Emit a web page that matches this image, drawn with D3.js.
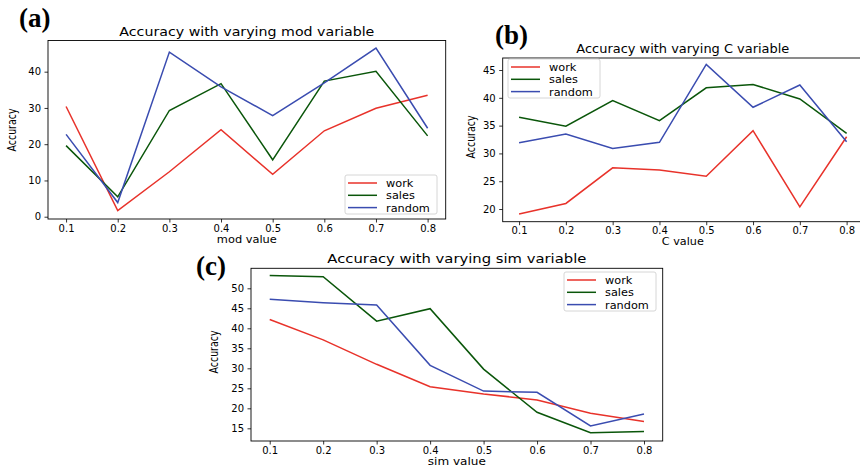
<!DOCTYPE html>
<html>
<head>
<meta charset="utf-8">
<script src="https://cdn.jsdelivr.net/npm/d3@7"></script>
<style>
  body { margin: 0; background: #fff; }
  svg { display: block; font-family: "DejaVu Sans", sans-serif; }
</style>
</head>
<body>
<div id="hook"></div>
<script>
var xValues = [0.1, 0.2, 0.3, 0.4, 0.5, 0.6, 0.7, 0.8];
var seriesNames = ["work", "sales", "random"];

// (a) mod variable
var modWork = [30.4, 1.7, 12.4, 24.0, 11.7, 23.7, 29.9, 33.5];
var modSales = [19.6, 5.5, 29.3, 36.7, 15.7, 37.4, 40.1, 22.3];
var modRandom = [22.7, 3.9, 45.4, 35.8, 27.9, 36.9, 46.5, 24.4];
var modTicks = [0, 10, 20, 30, 40];

// (b) C variable
var cWork = [19.1, 21.0, 27.4, 27.0, 25.9, 34.1, 20.4, 33.0];
var cSales = [36.5, 34.9, 39.5, 35.9, 41.8, 42.4, 39.8, 33.6];
var cRandom = [31.9, 33.5, 30.9, 32.0, 46.0, 38.3, 42.3, 32.1];
var cTicks = [20, 25, 30, 35, 40, 45];

// (c) sim variable
var simWork = [42.2, 37.1, 31.0, 25.4, 23.6, 22.1, 18.75, 16.7];
var simSales = [53.2, 52.9, 41.8, 44.9, 29.8, 19.0, 13.9, 14.2];
var simRandom = [47.25, 46.4, 45.8, 30.75, 24.3, 24.0, 15.6, 18.6];
var simTicks = [15, 20, 25, 30, 35, 40, 45, 50];

var colors = ["#e8322a", "#0a560a", "#3a4cb0"];

var W = 860, H = 466;
var svg = d3.select("#hook").append("svg").attr("width", W).attr("height", H);

function panel(o) {
    var x = d3.scaleLinear().domain([0.065, 0.835]).range([o.left, o.right]);
    var y = d3.scaleLinear().domain(o.yDomain).range([o.bottom, o.top]);
    var g = svg.append("g");

    var xAxis = g.append("g")
        .attr("transform", "translate(0," + o.bottom + ")")
        .call(d3.axisBottom(x).tickValues(xValues).tickFormat(d3.format(".1f")).tickSize(3.5).tickPadding(2));
    var yAxis = g.append("g")
        .attr("transform", "translate(" + o.left + ",0)")
        .call(d3.axisLeft(y).tickValues(o.ticks).tickFormat(d3.format("d")).tickSize(3.5).tickPadding(3.5));
    [xAxis, yAxis].forEach(function (a) {
        a.select(".domain").remove();
        a.selectAll("line").attr("stroke", "#000").attr("stroke-width", 0.8);
        a.selectAll("text").attr("font-size", 10).attr("fill", "#000")
            .attr("font-family", "DejaVu Sans, sans-serif");
    });

    var line = d3.line().x(function (d, i) { return x(xValues[i]); }).y(function (d) { return y(d); });
    o.series.forEach(function (s, i) {
        g.append("path").datum(s).attr("d", line)
            .attr("fill", "none").attr("stroke", colors[i]).attr("stroke-width", 1.5);
    });

    g.append("rect")
        .attr("x", o.left).attr("y", o.top)
        .attr("width", o.right - o.left).attr("height", o.bottom - o.top)
        .attr("fill", "none").attr("stroke", "#000").attr("stroke-width", 0.9);

    g.append("text").text(o.title)
        .attr("x", (o.left + Math.min(o.right, 863)) / 2).attr("y", o.top - 5)
        .attr("text-anchor", "middle").attr("font-size", 12)
        .attr("textLength", o.titleLen).attr("lengthAdjust", "spacingAndGlyphs");

    g.append("text").text(o.xLabel)
        .attr("x", x(0.45)).attr("y", o.bottom + 23.5)
        .attr("text-anchor", "middle").attr("font-size", 10.5)
        .attr("textLength", o.xLabelLen).attr("lengthAdjust", "spacingAndGlyphs");

    g.append("text").text("Accuracy")
        .attr("transform", "translate(" + o.yLabelX + "," + o.yLabelY + ") rotate(-90)")
        .attr("text-anchor", "middle").attr("font-size", 11.5)
        .attr("textLength", 43).attr("lengthAdjust", "spacingAndGlyphs");

    // legend
    var lg = g.append("g").attr("transform", "translate(" + o.legend[0] + "," + o.legend[1] + ")");
    lg.append("rect").attr("width", 92).attr("height", 39).attr("rx", 2)
        .attr("fill", "#fff").attr("fill-opacity", 0.85).attr("stroke", "#ccc").attr("stroke-width", 0.8);
    seriesNames.forEach(function (n, i) {
        var yy = 8 + i * 12.3;
        lg.append("line").attr("x1", 3).attr("x2", 32).attr("y1", yy).attr("y2", yy)
            .attr("stroke", colors[i]).attr("stroke-width", 1.5);
        lg.append("text").text(n).attr("x", 41).attr("y", yy + 4).attr("font-size", 11.3);
    });

    svg.append("text").text(o.tag)
        .attr("x", o.tagX).attr("y", o.tagY)
        .attr("font-family", "Liberation Serif, Times New Roman, serif")
        .attr("font-weight", "bold").attr("font-size", 27);
}

panel({
    left: 48, right: 445.7, top: 40.5, bottom: 219, yDomain: [-0.63, 48.6], ticks: modTicks,
    series: [modWork, modSales, modRandom],
    title: "Accuracy with varying mod variable", titleLen: 255,
    xLabel: "mod value", xLabelLen: 60, yLabelX: 16, yLabelY: 130,
    legend: [345, 175], tag: "(a)", tagX: 19, tagY: 27
});

panel({
    left: 502.7, right: 863, top: 58, bottom: 221.7, yDomain: [17.72, 47.16], ticks: cTicks,
    series: [cWork, cSales, cRandom],
    title: "Accuracy with varying C variable", titleLen: 213,
    xLabel: "C value", xLabelLen: 42, yLabelX: 475, yLabelY: 137,
    legend: [508, 59], tag: "(b)", tagX: 495, tagY: 44
});

panel({
    left: 251, right: 662.7, top: 268.3, bottom: 441, yDomain: [11.83, 55], ticks: simTicks,
    series: [simWork, simSales, simRandom],
    title: "Accuracy with varying sim variable", titleLen: 259,
    xLabel: "sim value", xLabelLen: 58, yLabelX: 218, yLabelY: 352,
    legend: [564, 272], tag: "(c)", tagX: 196, tagY: 275
});
</script>
</body>
</html>
